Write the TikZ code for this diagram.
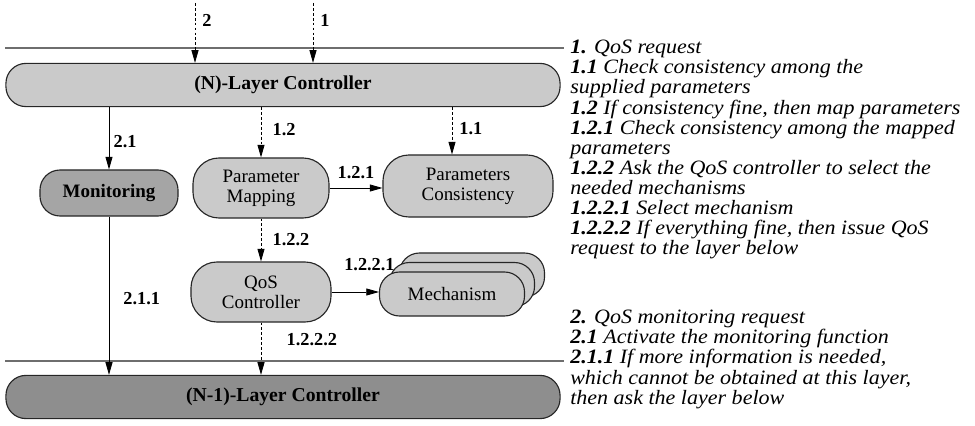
\documentclass[tikz,border=0pt]{standalone}
\usepackage{fontspec}
\setmainfont{Liberation Serif}
\newfontfamily\notefont{Liberation Serif}[FakeStretch=1.08]
\usetikzlibrary{positioning, arrows.meta}
\definecolor{boxgray}{RGB}{202, 202, 202}
\definecolor{darkboxgray}{RGB}{165, 165, 165}
\definecolor{deepboxgray}{RGB}{142, 142, 142}
\definecolor{rulegray}{RGB}{110, 110, 110}

\tikzset{
  pill/.style={draw=black!85, line width=0.8pt, fill=boxgray, rounded corners=0.5cm,
    align=center, inner sep=0pt, font=\fontsize{13.5}{14}\selectfont},
  layerbox/.style={pill, font=\fontsize{14}{15}\selectfont\bfseries, minimum width=13.85cm, minimum height=1.08cm},
  flow/.style={line width=0.6pt, -{Triangle[length=9pt,width=5pt]}},
  flowdash/.style={flow, dash pattern=on 2pt off 1.5pt},
  steplabel/.style={font=\fontsize{13}{14}\selectfont\bfseries, inner sep=2pt},
  notes/.style={align=left, inner sep=0pt, font=\notefont\fontsize{14.5}{14.3}\selectfont\itshape},
  layerline/.style={rulegray, line width=0.9pt}
}

\begin{document}
\begin{tikzpicture}[x=0.025cm, y=-0.025cm]
  \useasboundingbox (0,0) rectangle (975,426);
  % Layer boundaries
  \coordinate (topl) at (5,48);
  \coordinate (topr) at (564,48);
  \coordinate (botl) at (5,361);
  \coordinate (botr) at (564,361);
  \draw[layerline] (topl) -- (topr);
  \draw[layerline] (botl) -- (botr);
  % Layer controllers
  \node[layerbox] (nlayer) at (283,85) {(N)-Layer Controller};
  \node[layerbox, fill=deepboxgray] (nminus) at (283,397) {(N-1)-Layer Controller};
  % Functional blocks
  \node[pill, fill=darkboxgray, font=\fontsize{13.5}{14}\selectfont\bfseries,
    minimum width=3.45cm, minimum height=1.15cm] (mon) at (109,193) {Monitoring};
  \node[pill, rounded corners=0.65cm, minimum width=3.4cm, minimum height=1.5cm] (pmap) at (261,188) {Parameter\\Mapping};
  \node[pill, rounded corners=0.65cm, minimum width=4.25cm, minimum height=1.55cm] (pcons) at (468,186) {Parameters\\Consistency};
  \node[pill, rounded corners=0.65cm, minimum width=3.5cm, minimum height=1.5cm] (qos) at (261,292) {QoS\\Controller};
  % Stack of mechanisms
  \foreach \dx/\dy/\nm in {20/-19/mechc, 10/-9.5/mechb} {
    \node[pill, minimum width=3.625cm, minimum height=1.1cm] (\nm) at (452+\dx,294+\dy) {};
  }
  \node[pill, minimum width=3.625cm, minimum height=1.1cm] (mech) at (452,294) {Mechanism};
  % Incoming requests
  \coordinate (src2) at (195,3);
  \coordinate (src1) at (313,3);
  \draw[flowdash] (src2) -- (src2 |- nlayer.north) node[steplabel, pos=0.3, right=3pt] {2};
  \draw[flowdash] (src1) -- (src1 |- nlayer.north) node[steplabel, pos=0.3, right=3pt] {1};
  % Down from the (N)-layer controller
  \draw[flow] (mon.north |- nlayer.south) -- (mon.north) node[steplabel, pos=0.55, right=1pt] {2.1};
  \draw[flowdash] (pmap.north |- nlayer.south) -- (pmap.north) node[steplabel, pos=0.45, right=6pt] {1.2};
  \draw[flowdash] ([xshift=-0.4cm]pcons.north |- nlayer.south) -- ([xshift=-0.4cm]pcons.north)
    node[steplabel, pos=0.45, right=3pt] {1.1};
  % Between blocks
  \draw[flow] (pmap.east) -- (pcons.west |- pmap.east) node[steplabel, midway, above=4pt] {1.2.1};
  \draw[flowdash] (pmap.south) -- (qos.north) node[steplabel, midway, right=6pt] {1.2.2};
  \draw[flow] (qos.east) -- (mech.west |- qos.east) node[steplabel, pos=0.8, above=13pt] {1.2.2.1};
  % Down to the (N-1)-layer controller
  \draw[flowdash] (qos.south) -- (qos.south |- nminus.north) node[steplabel, pos=0.33, right=16pt] {1.2.2.2};
  \draw[flow] (mon.south) -- (mon.south |- nminus.north) node[steplabel, pos=0.52, right=8pt] {2.1.1};
  % Legend
  \node[notes, anchor=north west] (notesa) at (570,40) {%
    \textbf{1.} QoS request\\
    \textbf{1.1} Check consistency among the\\
    supplied parameters\\
    \textbf{1.2} If consistency fine, then map parameters\\
    \textbf{1.2.1} Check consistency among the mapped\\
    parameters\\
    \textbf{1.2.2} Ask the QoS controller to select the\\
    needed mechanisms\\
    \textbf{1.2.2.1} Select mechanism\\
    \textbf{1.2.2.2} If everything fine, then issue QoS\\
    request to the layer below};
  \node[notes, anchor=north west] (notesb) at (570,310) {%
    \textbf{2.} QoS monitoring request\\
    \textbf{2.1} Activate the monitoring function\\
    \textbf{2.1.1} If more information is needed,\\
    which cannot be obtained at this layer,\\
    then ask the layer below};
\end{tikzpicture}
\end{document}
